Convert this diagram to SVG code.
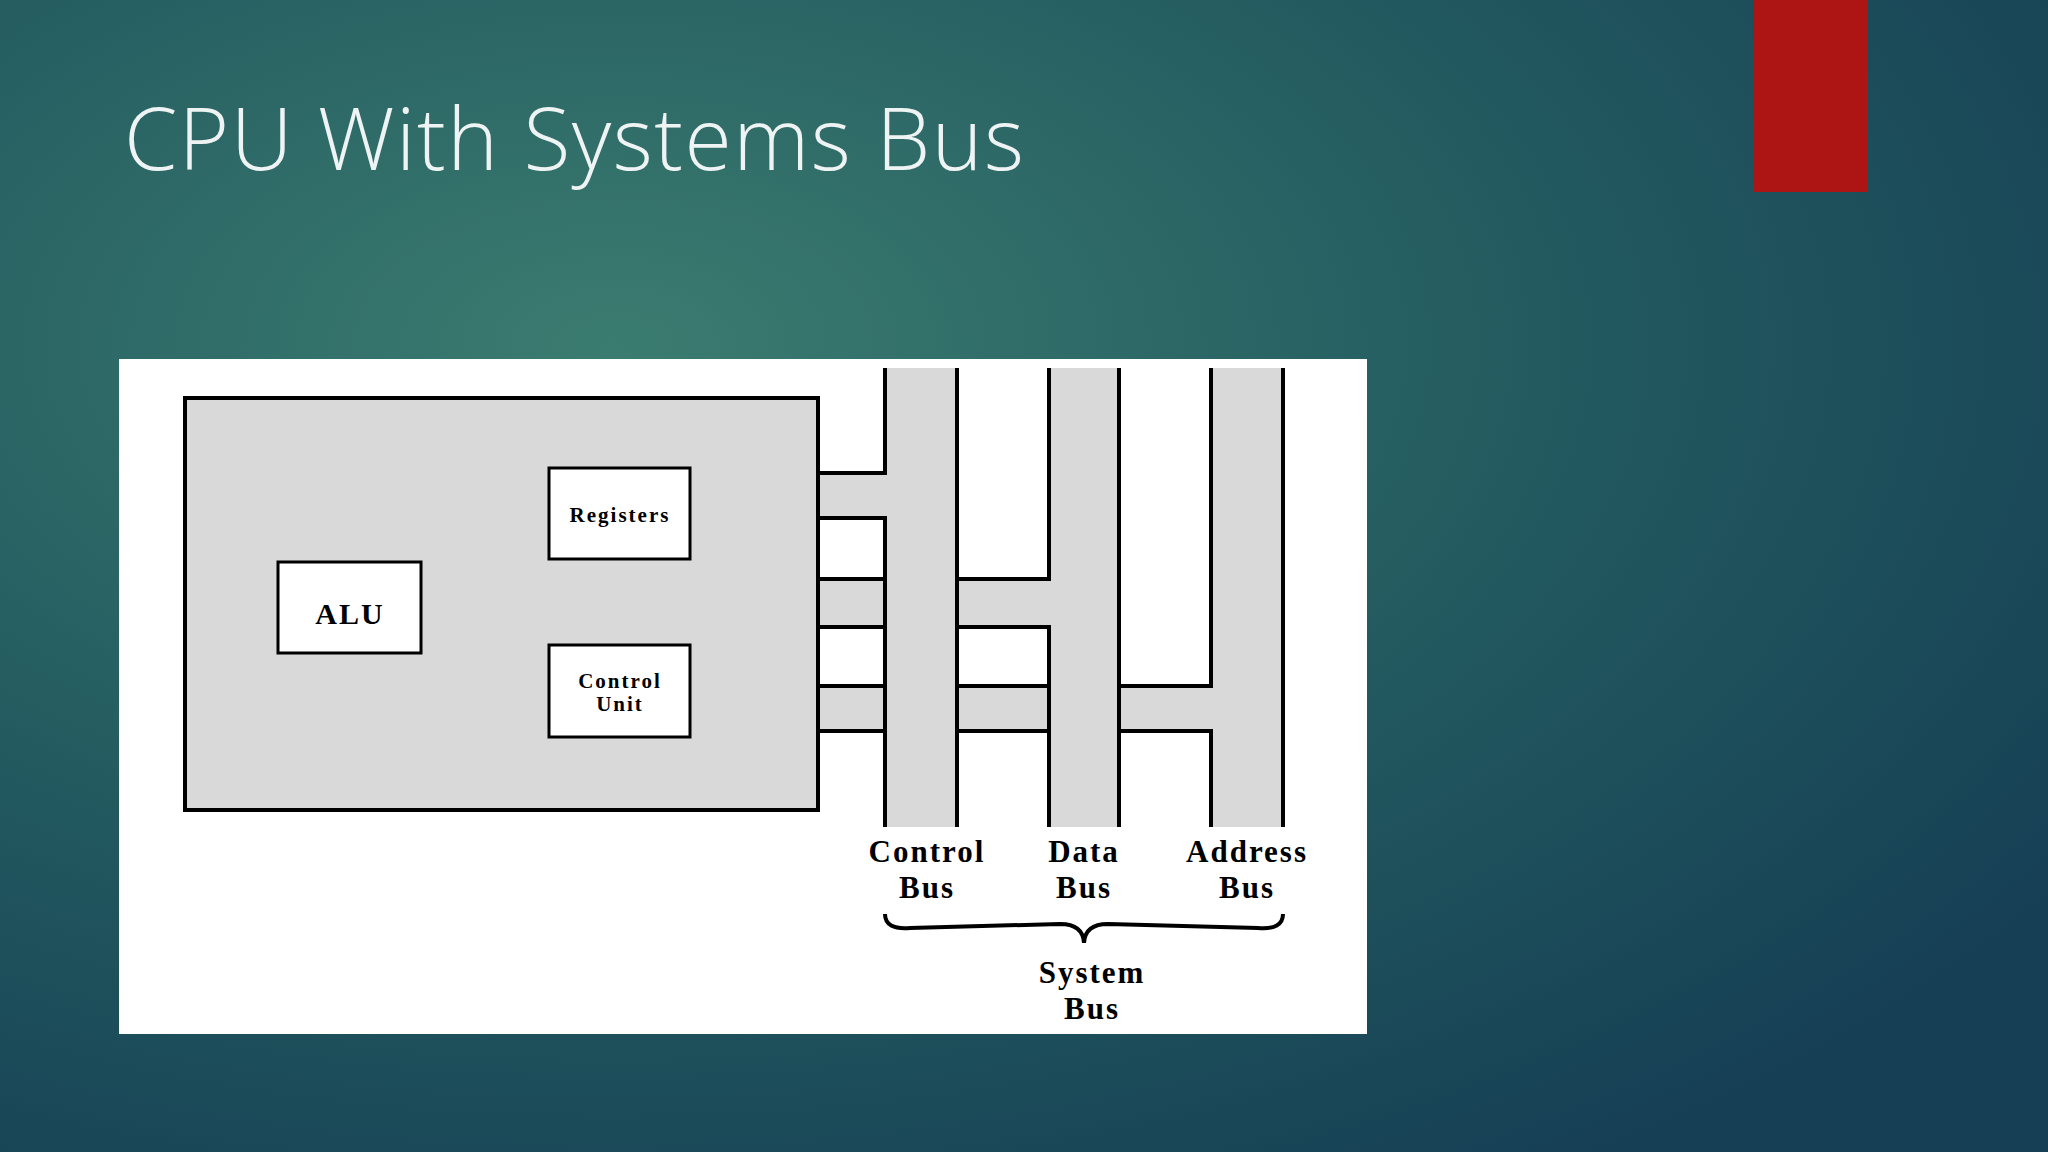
<svg xmlns="http://www.w3.org/2000/svg" width="2048" height="1152" viewBox="0 0 2048 1152">
<defs>
<radialGradient id="bg" cx="0.3" cy="0.3" r="0.85">
<stop offset="0" stop-color="#3b7c70"/>
<stop offset="0.55" stop-color="#22595f"/>
<stop offset="1" stop-color="#163f55"/>
</radialGradient>
<style>
.box{fill:#fff;stroke:#000;stroke-width:3}
.g{fill:#d9d9d9}
.l{stroke:#000;stroke-width:4;fill:none}
.t{font-family:"Liberation Serif",serif;font-weight:bold;fill:#000;text-anchor:middle;letter-spacing:2px}
</style>
</defs>
<rect width="2048" height="1152" fill="url(#bg)"/>
<rect x="1754" y="0" width="114" height="192" fill="#ad1515"/>
<text x="124" y="170" font-family="Open Sans, sans-serif" font-size="86" fill="#eef3f3" font-weight="300" letter-spacing="1.5">CPU With Systems Bus</text>
<rect x="119" y="359" width="1248" height="675" fill="#fff"/>
<g id="cpu"><rect x="185" y="398" width="633" height="412" class="g" stroke="#000" stroke-width="4"/></g>
<g id="connectors">
<rect x="885" y="368" width="72" height="459" class="g"/>
<rect x="1049" y="368" width="70" height="459" class="g"/>
<rect x="1211" y="368" width="72" height="459" class="g"/>
<rect x="820" y="473" width="68" height="45" class="g"/>
<rect x="820" y="579" width="232" height="48" class="g"/>
<rect x="820" y="686" width="394" height="45" class="g"/>
<path class="l" d="M885 368V473H818M818 518H885V827M957 368V827M1049 368V579H957M957 627H1049V827M1119 368V827M1211 368V686H1119M1119 731H1211V827M1283 368V827M818 579H885M885 627H818M818 686H885M885 731H818M957 686H1049M1049 731H957"/>
</g>
<g id="registers"><rect x="549" y="468" width="141" height="91" class="box"/><text x="620" y="522" class="t" font-size="21" letter-spacing="0">Registers</text></g>
<g id="alu"><rect x="278" y="562" width="143" height="91" class="box"/><text x="350" y="624" class="t" font-size="30">ALU</text></g>
<g id="cu"><rect x="549" y="645" width="141" height="92" class="box"/><text x="620" y="688" class="t" font-size="21" letter-spacing="0">Control</text><text x="620" y="711" class="t" font-size="21" letter-spacing="0">Unit</text></g>
<g id="labels">
<text x="927" y="862" class="t" font-size="31">Control</text><text x="927" y="898" class="t" font-size="31">Bus</text>
<text x="1084" y="862" class="t" font-size="31">Data</text><text x="1084" y="898" class="t" font-size="31">Bus</text>
<text x="1247" y="862" class="t" font-size="31">Address</text><text x="1247" y="898" class="t" font-size="31">Bus</text>
<path d="M885 914Q885 930 910 928L1060 924Q1083 924 1084 943Q1085 924 1108 924L1258 928Q1283 930 1283 914" class="l" stroke-width="3"/>
<text x="1092" y="983" class="t" font-size="31">System</text><text x="1092" y="1019" class="t" font-size="31">Bus</text>
</g>
</svg>
